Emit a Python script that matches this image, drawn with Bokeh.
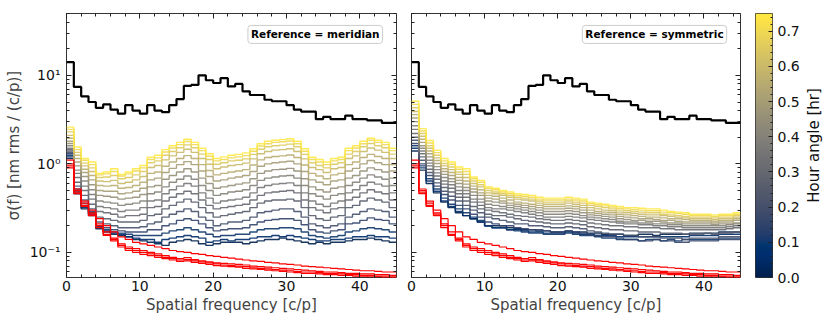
import numpy as np
from bokeh.plotting import figure
from bokeh.layouts import row
from bokeh.models import (FixedTicker, SingleIntervalTicker, LinearAxis, LogAxis,
                          CustomJSTickFormatter, Label, LinearColorMapper, PrintfTickFormatter)
from bokeh.palettes import Cividis256
from bokeh.embed import file_html
from bokeh.resources import INLINE

FONT = "DejaVu Sans"

# ---------------- data ----------------
BIN_EDGES = list(range(46))          # spatial frequency bin edges [c/p]
HOUR_ANGLES = [0.0, 0.05, 0.10, 0.15, 0.20, 0.25, 0.30, 0.35,
               0.40, 0.45, 0.50, 0.55, 0.60, 0.65, 0.70, 0.75]

# total (black) curve, same in both panels
REF_TOTAL = [14.1, 7.4, 5.8, 5.0, 4.3, 4.7, 4.1, 3.7, 4.6, 4.0, 3.7, 4.6, 4.0, 3.85, 4.6,
             5.4, 7.6, 7.8, 10.0, 8.8, 8.2, 9.3, 7.5, 8.0, 6.6, 6.0, 6.0, 5.3, 5.1, 5.1,
             4.6, 4.1, 3.9, 3.9, 3.2, 3.4, 3.2, 3.2, 3.5, 3.2, 3.2, 3.1, 3.1, 2.9, 2.9]

# red curves (both panels)
RED_1 = [1.1, 0.52, 0.38, 0.3, 0.24, 0.2, 0.17, 0.15, 0.14, 0.13, 0.125, 0.12, 0.115, 0.11, 0.105,
         0.102, 0.1, 0.097, 0.095, 0.092, 0.09, 0.088, 0.086, 0.084, 0.082, 0.08, 0.079, 0.077,
         0.076, 0.074, 0.073, 0.072, 0.07, 0.069, 0.068, 0.067, 0.066, 0.065, 0.064, 0.063,
         0.062, 0.062, 0.061, 0.06, 0.06]
RED_2 = [1.0, 0.5, 0.36, 0.28, 0.21, 0.17, 0.145, 0.125, 0.115, 0.11, 0.105, 0.1, 0.096, 0.092,
         0.088, 0.085, 0.087, 0.083, 0.08, 0.078, 0.076, 0.075, 0.074, 0.073, 0.072, 0.07, 0.069,
         0.068, 0.067, 0.066, 0.065, 0.064, 0.063, 0.062, 0.061, 0.06, 0.06, 0.059, 0.058, 0.058,
         0.057, 0.057, 0.056, 0.056, 0.055]
RED_3 = [0.95, 0.48, 0.34, 0.27, 0.2, 0.16, 0.14, 0.12, 0.11, 0.105, 0.1, 0.096, 0.092, 0.088,
         0.085, 0.082, 0.083, 0.08, 0.078, 0.076, 0.074, 0.072, 0.071, 0.07, 0.069, 0.067, 0.066,
         0.065, 0.064, 0.063, 0.062, 0.061, 0.06, 0.06, 0.059, 0.058, 0.058, 0.057, 0.056, 0.056,
         0.055, 0.055, 0.054, 0.054, 0.053]
RED_4 = [0.9, 0.46, 0.33, 0.26, 0.19, 0.155, 0.135, 0.115, 0.105, 0.1, 0.095, 0.092, 0.088, 0.085,
         0.082, 0.079, 0.08, 0.077, 0.075, 0.073, 0.071, 0.07, 0.069, 0.068, 0.066, 0.065, 0.064,
         0.063, 0.062, 0.061, 0.06, 0.059, 0.058, 0.058, 0.057, 0.056, 0.056, 0.055, 0.055, 0.054,
         0.054, 0.053, 0.053, 0.052, 0.052]

# left panel: reference = meridian, one curve per hour angle
M00 = [1.15, 0.46, 0.31, 0.26, 0.185, 0.17, 0.16, 0.155, 0.15, 0.14, 0.135, 0.13, 0.125, 0.12, 0.13,
       0.135, 0.14, 0.135, 0.125, 0.12, 0.125, 0.13, 0.13, 0.13, 0.125, 0.13, 0.135, 0.14, 0.14,
       0.145, 0.14, 0.135, 0.13, 0.125, 0.13, 0.125, 0.13, 0.13, 0.135, 0.14, 0.14, 0.145, 0.14,
       0.135, 0.13]
M05 = [1.2, 0.48, 0.32, 0.27, 0.19, 0.175, 0.165, 0.16, 0.15, 0.145, 0.14, 0.14, 0.13, 0.14, 0.145,
       0.15, 0.155, 0.15, 0.145, 0.13, 0.135, 0.14, 0.135, 0.14, 0.14, 0.145, 0.15, 0.15, 0.155,
       0.15, 0.155, 0.15, 0.145, 0.14, 0.135, 0.135, 0.14, 0.14, 0.145, 0.15, 0.15, 0.155, 0.15,
       0.15, 0.145]
M10 = [1.25, 0.5, 0.34, 0.28, 0.195, 0.18, 0.17, 0.165, 0.16, 0.155, 0.155, 0.155, 0.155, 0.165,
       0.175, 0.18, 0.19, 0.18, 0.17, 0.16, 0.15, 0.155, 0.155, 0.16, 0.16, 0.17, 0.18, 0.185,
       0.185, 0.19, 0.19, 0.185, 0.17, 0.155, 0.15, 0.145, 0.15, 0.155, 0.17, 0.175, 0.185, 0.19,
       0.185, 0.18, 0.17]
M15 = [1.3, 0.52, 0.36, 0.29, 0.2, 0.19, 0.18, 0.175, 0.17, 0.17, 0.17, 0.18, 0.18, 0.2, 0.21,
       0.23, 0.24, 0.23, 0.21, 0.19, 0.175, 0.18, 0.185, 0.185, 0.19, 0.205, 0.22, 0.23, 0.235,
       0.24, 0.24, 0.23, 0.205, 0.18, 0.17, 0.165, 0.175, 0.18, 0.21, 0.215, 0.23, 0.245, 0.235,
       0.23, 0.21]
M20 = [1.35, 0.56, 0.39, 0.31, 0.22, 0.21, 0.2, 0.19, 0.19, 0.19, 0.195, 0.21, 0.22, 0.25, 0.27,
       0.29, 0.31, 0.29, 0.25, 0.23, 0.2, 0.21, 0.22, 0.22, 0.23, 0.25, 0.28, 0.29, 0.3, 0.31,
       0.31, 0.29, 0.25, 0.21, 0.2, 0.19, 0.2, 0.21, 0.25, 0.27, 0.29, 0.31, 0.3, 0.29, 0.25]
M25 = [1.4, 0.62, 0.44, 0.35, 0.25, 0.24, 0.23, 0.22, 0.22, 0.22, 0.23, 0.26, 0.27, 0.31, 0.34,
       0.37, 0.4, 0.37, 0.32, 0.28, 0.25, 0.26, 0.27, 0.28, 0.29, 0.32, 0.36, 0.38, 0.39, 0.39,
       0.4, 0.38, 0.32, 0.26, 0.24, 0.23, 0.25, 0.26, 0.32, 0.34, 0.38, 0.41, 0.39, 0.37, 0.32]
M30 = [1.45, 0.7, 0.5, 0.4, 0.29, 0.28, 0.27, 0.25, 0.26, 0.26, 0.27, 0.32, 0.33, 0.38, 0.42,
       0.46, 0.49, 0.46, 0.39, 0.34, 0.31, 0.32, 0.33, 0.34, 0.35, 0.39, 0.44, 0.47, 0.48, 0.49,
       0.5, 0.47, 0.39, 0.32, 0.3, 0.28, 0.31, 0.32, 0.39, 0.42, 0.47, 0.51, 0.48, 0.46, 0.39]
M35 = [1.5, 0.78, 0.56, 0.45, 0.33, 0.32, 0.31, 0.29, 0.3, 0.3, 0.32, 0.38, 0.39, 0.46, 0.51,
       0.56, 0.6, 0.56, 0.47, 0.41, 0.36, 0.38, 0.39, 0.4, 0.42, 0.47, 0.54, 0.57, 0.59, 0.6,
       0.61, 0.57, 0.47, 0.38, 0.35, 0.33, 0.36, 0.38, 0.47, 0.51, 0.57, 0.62, 0.59, 0.56, 0.47]
M40 = [1.6, 0.85, 0.64, 0.51, 0.38, 0.37, 0.36, 0.34, 0.35, 0.36, 0.38, 0.46, 0.48, 0.55, 0.62,
       0.67, 0.73, 0.67, 0.57, 0.5, 0.44, 0.46, 0.48, 0.49, 0.51, 0.57, 0.65, 0.69, 0.71, 0.73,
       0.74, 0.69, 0.57, 0.46, 0.43, 0.4, 0.44, 0.46, 0.57, 0.62, 0.69, 0.75, 0.71, 0.67, 0.57]
M45 = [1.7, 0.95, 0.72, 0.58, 0.44, 0.43, 0.42, 0.4, 0.41, 0.42, 0.45, 0.55, 0.57, 0.67, 0.74,
       0.81, 0.88, 0.81, 0.69, 0.6, 0.53, 0.55, 0.57, 0.59, 0.61, 0.68, 0.78, 0.83, 0.86, 0.87,
       0.89, 0.83, 0.68, 0.55, 0.51, 0.48, 0.53, 0.55, 0.69, 0.74, 0.83, 0.9, 0.86, 0.81, 0.69]
M50 = [1.8, 1.05, 0.8, 0.66, 0.5, 0.49, 0.49, 0.46, 0.47, 0.49, 0.53, 0.66, 0.69, 0.8, 0.89,
       0.98, 1.06, 0.98, 0.83, 0.72, 0.64, 0.66, 0.69, 0.71, 0.74, 0.82, 0.94, 1.0, 1.03, 1.05,
       1.07, 1.0, 0.82, 0.66, 0.62, 0.58, 0.64, 0.66, 0.83, 0.89, 1.0, 1.09, 1.03, 0.98, 0.83]
M55 = [1.95, 1.15, 0.87, 0.74, 0.57, 0.56, 0.57, 0.53, 0.54, 0.57, 0.62, 0.78, 0.81, 0.94, 1.05,
       1.15, 1.24, 1.15, 0.98, 0.84, 0.75, 0.78, 0.81, 0.83, 0.86, 0.97, 1.11, 1.18, 1.21, 1.23,
       1.26, 1.18, 0.97, 0.78, 0.73, 0.68, 0.75, 0.78, 0.98, 1.05, 1.18, 1.28, 1.21, 1.15, 0.98]
M60 = [2.1, 1.25, 0.95, 0.82, 0.64, 0.63, 0.65, 0.6, 0.62, 0.66, 0.72, 0.91, 0.96, 1.11, 1.23,
       1.35, 1.46, 1.35, 1.15, 0.99, 0.88, 0.92, 0.96, 0.98, 1.02, 1.14, 1.3, 1.38, 1.43, 1.45,
       1.48, 1.38, 1.14, 0.91, 0.86, 0.8, 0.88, 0.91, 1.15, 1.23, 1.38, 1.51, 1.43, 1.35, 1.15]
M65 = [2.3, 1.35, 1.02, 0.9, 0.7, 0.71, 0.74, 0.68, 0.7, 0.75, 0.82, 1.03, 1.08, 1.25, 1.38,
       1.52, 1.64, 1.52, 1.29, 1.12, 0.99, 1.03, 1.08, 1.1, 1.14, 1.28, 1.46, 1.56, 1.6, 1.63,
       1.67, 1.56, 1.28, 1.03, 0.96, 0.9, 0.99, 1.03, 1.29, 1.38, 1.56, 1.7, 1.6, 1.52, 1.29]
M70 = [2.45, 1.45, 1.1, 0.98, 0.75, 0.77, 0.82, 0.73, 0.77, 0.83, 0.9, 1.12, 1.17, 1.36, 1.51,
       1.65, 1.79, 1.65, 1.41, 1.22, 1.08, 1.12, 1.17, 1.2, 1.24, 1.39, 1.59, 1.69, 1.75, 1.78,
       1.81, 1.69, 1.39, 1.12, 1.05, 0.98, 1.08, 1.12, 1.41, 1.51, 1.69, 1.85, 1.75, 1.65, 1.41]
M75 = [2.6, 1.55, 1.15, 1.05, 0.78, 0.81, 0.88, 0.76, 0.81, 0.88, 0.96, 1.19, 1.25, 1.45, 1.6,
       1.75, 1.9, 1.75, 1.5, 1.3, 1.15, 1.2, 1.25, 1.28, 1.33, 1.48, 1.69, 1.8, 1.85, 1.88,
       1.92, 1.8, 1.48, 1.19, 1.12, 1.05, 1.15, 1.19, 1.5, 1.6, 1.8, 1.95, 1.85, 1.75, 1.5]

# right panel: reference = symmetric
S00 = [1.4, 0.85, 0.6, 0.47, 0.37, 0.32, 0.28, 0.26, 0.24, 0.22, 0.2, 0.2, 0.2, 0.19, 0.185,
       0.18, 0.18, 0.175, 0.175, 0.17, 0.17, 0.175, 0.17, 0.17, 0.165, 0.165, 0.16, 0.16, 0.16,
       0.155, 0.155, 0.16, 0.16, 0.155, 0.16, 0.16, 0.16, 0.16, 0.165, 0.165, 0.165, 0.165,
       0.17, 0.17, 0.17]
S05 = [1.5, 0.9, 0.64, 0.49, 0.38, 0.33, 0.29, 0.26, 0.24, 0.22, 0.2, 0.19, 0.19, 0.18, 0.18,
       0.175, 0.17, 0.17, 0.165, 0.165, 0.165, 0.17, 0.165, 0.16, 0.16, 0.155, 0.155, 0.155,
       0.15, 0.15, 0.15, 0.15, 0.15, 0.15, 0.15, 0.15, 0.15, 0.15, 0.155, 0.155, 0.155, 0.155,
       0.16, 0.16, 0.16]
S10 = [1.6, 0.95, 0.68, 0.52, 0.41, 0.35, 0.31, 0.28, 0.25, 0.23, 0.2, 0.19, 0.19, 0.18, 0.175,
       0.17, 0.165, 0.165, 0.16, 0.16, 0.16, 0.165, 0.16, 0.155, 0.155, 0.15, 0.145, 0.145, 0.14,
       0.14, 0.14, 0.135, 0.14, 0.14, 0.135, 0.14, 0.135, 0.14, 0.14, 0.14, 0.14, 0.14, 0.145,
       0.145, 0.145]
S15 = [1.7, 1.0, 0.74, 0.56, 0.45, 0.39, 0.34, 0.31, 0.27, 0.25, 0.22, 0.21, 0.2, 0.2, 0.19,
       0.185, 0.18, 0.18, 0.175, 0.17, 0.17, 0.175, 0.17, 0.165, 0.16, 0.155, 0.15, 0.15, 0.145,
       0.14, 0.14, 0.135, 0.135, 0.14, 0.135, 0.135, 0.13, 0.13, 0.135, 0.135, 0.135, 0.135,
       0.14, 0.14, 0.14]
S20 = [1.85, 1.1, 0.8, 0.61, 0.49, 0.43, 0.38, 0.34, 0.3, 0.28, 0.25, 0.24, 0.23, 0.22, 0.21,
       0.21, 0.2, 0.2, 0.195, 0.19, 0.19, 0.195, 0.19, 0.185, 0.175, 0.17, 0.165, 0.16, 0.16,
       0.155, 0.155, 0.15, 0.15, 0.15, 0.145, 0.145, 0.145, 0.14, 0.145, 0.145, 0.145, 0.145,
       0.15, 0.15, 0.15]
S25 = [2.0, 1.2, 0.87, 0.67, 0.54, 0.48, 0.42, 0.38, 0.33, 0.31, 0.27, 0.26, 0.26, 0.25, 0.24,
       0.23, 0.225, 0.22, 0.215, 0.21, 0.21, 0.215, 0.21, 0.205, 0.195, 0.19, 0.185, 0.18, 0.18,
       0.175, 0.175, 0.17, 0.17, 0.17, 0.165, 0.165, 0.165, 0.16, 0.16, 0.16, 0.165, 0.16, 0.165,
       0.165, 0.17]
S30 = [2.2, 1.3, 0.95, 0.73, 0.59, 0.53, 0.46, 0.42, 0.37, 0.34, 0.3, 0.29, 0.28, 0.27, 0.26,
       0.255, 0.25, 0.24, 0.235, 0.23, 0.23, 0.235, 0.23, 0.225, 0.215, 0.21, 0.205, 0.2, 0.2,
       0.195, 0.195, 0.19, 0.19, 0.19, 0.185, 0.185, 0.18, 0.18, 0.18, 0.18, 0.18, 0.18, 0.18,
       0.185, 0.19]
S35 = [2.45, 1.4, 1.02, 0.79, 0.64, 0.58, 0.5, 0.46, 0.4, 0.37, 0.32, 0.31, 0.31, 0.3, 0.29,
       0.28, 0.27, 0.26, 0.25, 0.25, 0.25, 0.255, 0.25, 0.245, 0.235, 0.23, 0.225, 0.22, 0.215,
       0.21, 0.21, 0.205, 0.205, 0.2, 0.2, 0.195, 0.195, 0.19, 0.19, 0.19, 0.19, 0.19, 0.19,
       0.195, 0.2]
S40 = [2.7, 1.5, 1.1, 0.86, 0.7, 0.63, 0.55, 0.5, 0.44, 0.4, 0.35, 0.34, 0.33, 0.32, 0.31,
       0.3, 0.29, 0.28, 0.27, 0.27, 0.27, 0.275, 0.27, 0.26, 0.25, 0.245, 0.24, 0.235, 0.225,
       0.22, 0.22, 0.215, 0.215, 0.21, 0.21, 0.205, 0.205, 0.2, 0.2, 0.2, 0.2, 0.2, 0.2, 0.205,
       0.21]
S45 = [3.0, 1.6, 1.2, 0.93, 0.76, 0.68, 0.6, 0.54, 0.48, 0.44, 0.38, 0.37, 0.36, 0.34, 0.33,
       0.32, 0.31, 0.3, 0.29, 0.29, 0.29, 0.295, 0.29, 0.28, 0.265, 0.26, 0.255, 0.25, 0.24,
       0.235, 0.23, 0.23, 0.225, 0.225, 0.22, 0.215, 0.215, 0.21, 0.21, 0.21, 0.21, 0.205, 0.21,
       0.21, 0.215]
S50 = [3.3, 1.75, 1.3, 1.01, 0.82, 0.74, 0.65, 0.59, 0.52, 0.47, 0.41, 0.4, 0.38, 0.36, 0.35,
       0.34, 0.33, 0.32, 0.31, 0.31, 0.31, 0.315, 0.31, 0.3, 0.28, 0.275, 0.27, 0.265, 0.255,
       0.25, 0.245, 0.24, 0.24, 0.235, 0.23, 0.23, 0.225, 0.22, 0.22, 0.22, 0.22, 0.215, 0.22,
       0.22, 0.23]
S55 = [3.6, 1.9, 1.4, 1.09, 0.88, 0.8, 0.7, 0.64, 0.56, 0.51, 0.44, 0.43, 0.41, 0.39, 0.37,
       0.36, 0.35, 0.34, 0.33, 0.33, 0.33, 0.335, 0.33, 0.32, 0.3, 0.29, 0.285, 0.28, 0.27,
       0.265, 0.26, 0.255, 0.25, 0.25, 0.245, 0.24, 0.24, 0.235, 0.23, 0.23, 0.23, 0.225, 0.23,
       0.23, 0.24]
S60 = [3.9, 2.05, 1.5, 1.17, 0.95, 0.86, 0.76, 0.7, 0.6, 0.55, 0.47, 0.46, 0.44, 0.42, 0.4,
       0.39, 0.38, 0.36, 0.35, 0.35, 0.35, 0.36, 0.35, 0.34, 0.32, 0.31, 0.3, 0.295, 0.285,
       0.28, 0.275, 0.27, 0.265, 0.265, 0.26, 0.255, 0.25, 0.245, 0.24, 0.24, 0.24, 0.235, 0.24,
       0.24, 0.25]
S65 = [4.3, 2.2, 1.6, 1.25, 1.01, 0.92, 0.81, 0.76, 0.64, 0.58, 0.5, 0.48, 0.46, 0.44, 0.42,
       0.41, 0.4, 0.38, 0.37, 0.37, 0.37, 0.38, 0.37, 0.36, 0.34, 0.33, 0.32, 0.31, 0.3, 0.295,
       0.29, 0.285, 0.28, 0.28, 0.27, 0.265, 0.26, 0.255, 0.25, 0.25, 0.25, 0.245, 0.25, 0.25,
       0.26]
S70 = [4.7, 2.35, 1.72, 1.34, 1.08, 0.99, 0.87, 0.82, 0.68, 0.62, 0.53, 0.51, 0.48, 0.46, 0.44,
       0.43, 0.42, 0.4, 0.39, 0.39, 0.39, 0.4, 0.39, 0.38, 0.355, 0.345, 0.335, 0.325, 0.315,
       0.31, 0.305, 0.3, 0.295, 0.295, 0.285, 0.28, 0.275, 0.27, 0.26, 0.26, 0.26, 0.255, 0.26,
       0.26, 0.27]
S75 = [5.1, 2.5, 1.84, 1.42, 1.15, 1.05, 0.92, 0.88, 0.71, 0.65, 0.55, 0.53, 0.5, 0.48, 0.46,
       0.45, 0.44, 0.42, 0.41, 0.41, 0.41, 0.42, 0.41, 0.40, 0.37, 0.36, 0.35, 0.34, 0.33, 0.32,
       0.32, 0.315, 0.31, 0.31, 0.3, 0.29, 0.285, 0.28, 0.27, 0.27, 0.27, 0.265, 0.27, 0.27, 0.28]

MERIDIAN = [M00, M05, M10, M15, M20, M25, M30, M35, M40, M45, M50, M55, M60, M65, M70, M75]
SYMMETRIC = [S00, S05, S10, S15, S20, S25, S30, S35, S40, S45, S50, S55, S60, S65, S70, S75]
REDS = [RED_1, RED_2, RED_3, RED_4]

HA_MAX = 0.75
Y_RANGE = (0.052, 50)
X_RANGE = (0, 45)
Y_MAJOR = [0.1, 1, 10]
Y_MINOR = [0.06, 0.07, 0.08, 0.09, 0.2, 0.3, 0.4, 0.5, 0.6, 0.7, 0.8, 0.9,
           2, 3, 4, 5, 6, 7, 8, 9, 20, 30, 40, 50]

H_TOTAL = 320
B_TOP = 13
B_BOTTOM = 43

# ---------------- helpers ----------------
def ha_color(h):
    return Cividis256[int(round(h / HA_MAX * 255))]


def step_xy(vals):
    xs = BIN_EDGES[:len(vals) + 1]
    ys = list(vals) + [vals[-1]]
    return xs, ys


def y_formatter():
    return CustomJSTickFormatter(code="""
        const e = Math.round(Math.log10(tick));
        if (e === 1) return '10\u00b9';
        if (e === 0) return '10\u2070';
        if (e === -1) return '10\u207b\u00b9';
        return '';
    """)


def blank_formatter():
    return CustomJSTickFormatter(code="return '';")


def style_tick_axis(ax, labels=True, size="14px"):
    ax.major_tick_in = 5
    ax.major_tick_out = 0
    ax.minor_tick_in = 3
    ax.minor_tick_out = 0
    ax.major_tick_line_color = "#222222"
    ax.minor_tick_line_color = "#222222"
    ax.axis_line_color = None
    ax.major_label_text_font = FONT
    ax.major_label_text_color = "#111111"
    if labels:
        ax.major_label_text_font_size = size
    else:
        ax.formatter = blank_formatter()
        ax.major_label_text_font_size = "1px"
        ax.major_label_standoff = 0


def make_panel(curves, label_text, width, border_left, show_ylabels):
    p = figure(width=width, height=H_TOTAL, x_range=X_RANGE, y_range=Y_RANGE,
               y_axis_type="log", toolbar_location=None, output_backend="svg",
               min_border_left=border_left, min_border_right=5,
               min_border_top=B_TOP, min_border_bottom=B_BOTTOM)
    p.background_fill_color = "white"
    p.border_fill_color = "white"
    p.outline_line_color = "#333333"
    p.outline_line_width = 1
    p.xgrid.visible = False
    p.ygrid.visible = False

    p.xaxis.ticker = SingleIntervalTicker(interval=10, num_minor_ticks=5)
    p.xaxis.axis_label = "Spatial frequency [c/p]"
    p.xaxis.axis_label_text_font = FONT
    p.xaxis.axis_label_text_font_size = "15px"
    p.xaxis.axis_label_text_font_style = "normal"
    p.xaxis.axis_label_standoff = 2
    style_tick_axis(p.xaxis[0])
    p.xaxis.major_label_standoff = 3

    p.yaxis.ticker = FixedTicker(ticks=Y_MAJOR, minor_ticks=Y_MINOR)
    if show_ylabels:
        p.yaxis.formatter = y_formatter()
        p.yaxis.axis_label = "\u03c3(f) [nm rms / (c/p)]"
        p.yaxis.axis_label_text_font = FONT
        p.yaxis.axis_label_text_font_size = "15px"
        p.yaxis.axis_label_text_font_style = "normal"
        p.yaxis.axis_label_standoff = 4
        style_tick_axis(p.yaxis[0])
        p.yaxis.major_label_standoff = 6
    else:
        style_tick_axis(p.yaxis[0], labels=False)

    top = LinearAxis(ticker=SingleIntervalTicker(interval=10, num_minor_ticks=5))
    style_tick_axis(top, labels=False)
    p.add_layout(top, "above")
    right = LogAxis(ticker=FixedTicker(ticks=Y_MAJOR, minor_ticks=Y_MINOR))
    style_tick_axis(right, labels=False)
    p.add_layout(right, "right")

    for h, vals in zip(HOUR_ANGLES, curves):
        xs, ys = step_xy(vals)
        p.step(xs, ys, mode="after", line_color=ha_color(h), line_width=1.4, line_alpha=0.9)
    for vals in REDS:
        xs, ys = step_xy(vals)
        p.step(xs, ys, mode="after", line_color="#ff0000", line_width=1.2)
    xs, ys = step_xy(REF_TOTAL)
    p.step(xs, ys, mode="after", line_color="black", line_width=2.2)

    lab = Label(x=43.1, y=29, text=label_text, text_align="right", text_baseline="middle",
                text_font=FONT, text_font_style="bold", text_font_size="10.5px",
                text_color="black",
                background_fill_color="white", background_fill_alpha=0.85,
                border_line_color="#cccccc", border_line_width=1,
                padding=3, border_radius=3)
    p.add_layout(lab)
    return p


p1 = make_panel(MERIDIAN, "Reference = meridian", 401, 66, True)
p2 = make_panel(SYMMETRIC, "Reference = symmetric", 344, 10, False)

# ---------------- colorbar ----------------
mapper = LinearColorMapper(palette=Cividis256, low=0, high=HA_MAX)
p3 = figure(width=57, height=H_TOTAL, x_range=(0, 1), y_range=(0, HA_MAX),
            y_axis_location="right", toolbar_location=None, output_backend="svg",
            min_border_left=10, min_border_right=30,
            min_border_top=B_TOP, min_border_bottom=B_BOTTOM)
p3.xaxis.visible = False
p3.xgrid.visible = False
p3.ygrid.visible = False
p3.outline_line_color = "#333333"
p3.background_fill_color = "white"
p3.border_fill_color = "white"
grad = np.linspace(0, HA_MAX, 256).reshape(256, 1)
p3.image(image=[grad], x=0, y=0, dw=1, dh=HA_MAX, color_mapper=mapper)
p3.yaxis.ticker = SingleIntervalTicker(interval=0.1, num_minor_ticks=5)
p3.yaxis.formatter = PrintfTickFormatter(format="%.1f")
style_tick_axis(p3.yaxis[0])
p3.yaxis.major_tick_in = 4
p3.yaxis.minor_tick_in = 2
p3.yaxis.major_label_standoff = 5

# colour-bar title: left axis of a thin companion figure so it reads bottom-to-top
p4 = figure(width=22, height=H_TOTAL, x_range=(0, 1), y_range=(0, HA_MAX),
            toolbar_location=None, output_backend="svg",
            min_border_left=18, min_border_right=2,
            min_border_top=B_TOP, min_border_bottom=B_BOTTOM)
p4.xaxis.visible = False
p4.xgrid.visible = False
p4.ygrid.visible = False
p4.outline_line_color = None
p4.background_fill_color = "white"
p4.border_fill_color = "white"
p4.yaxis.ticker = FixedTicker(ticks=[])
p4.yaxis.formatter = blank_formatter()
p4.yaxis.major_label_text_font_size = "1px"
p4.yaxis.major_label_standoff = 0
p4.yaxis.major_tick_in = 0
p4.yaxis.major_tick_out = 0
p4.yaxis.minor_tick_in = 0
p4.yaxis.minor_tick_out = 0
p4.yaxis.axis_line_color = None
p4.yaxis.axis_label = "Hour angle [hr]"
p4.yaxis.axis_label_text_font = FONT
p4.yaxis.axis_label_text_font_size = "15px"
p4.yaxis.axis_label_text_font_style = "normal"
p4.yaxis.axis_label_text_color = "#111111"
p4.yaxis.axis_label_standoff = 0

layout = row(p1, p2, p3, p4)
with open("out.html", "w", encoding="utf-8") as f:
    f.write(file_html(layout, INLINE))
